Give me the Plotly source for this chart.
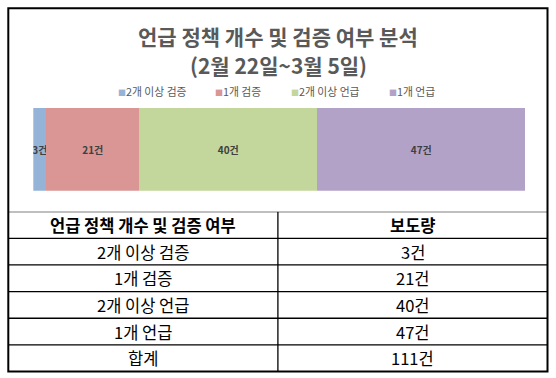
import plotly.graph_objects as go

# ---- data ----
categories = ["2개 이상 검증", "1개 검증", "2개 이상 언급", "1개 언급"]
counts = [3, 21, 40, 47]
colors = ["#95B3D7", "#D99694", "#C3D69B", "#B3A2C7"]
title_lines = ["언급 정책 개수 및 검증 여부 분석", "(2월 22일~3월 5일)"]
table_header = ["언급 정책 개수 및 검증 여부", "보도량"]
total_label = "합계"
unit = "건"

W, H = 556, 378
FONT = "Noto Sans CJK KR, Malgun Gothic, sans-serif"

def px_x(p):
    return p / W

def px_y(p):
    return 1 - p / H

fig = go.Figure()

# stacked horizontal bar
for name, val, col in zip(categories, counts, colors):
    fig.add_trace(go.Bar(
        y=["bar"], x=[val], name=name, orientation="h",
        marker=dict(color=col, line=dict(width=0)),
        texttemplate="<b>%{x}" + unit + "</b>", textposition="inside",
        insidetextanchor="middle", constraintext="none", textangle=0,
        textfont=dict(family=FONT, size=10, color="#404040"),
        showlegend=False, hoverinfo="skip",
    ))

# ---- table (drawn on its own axes: columns 0..2, rows 0..n) ----
col1 = categories + [total_label]
col2 = [f"{v}{unit}" for v in counts] + [f"{sum(counts)}{unit}"]
rows = [table_header] + [[a, b] for a, b in zip(col1, col2)]
n_rows = len(rows)

annotations = []
shapes = []
for r, row in enumerate(rows):
    for c, txt in enumerate(row):
        annotations.append(dict(
            x=c + 0.5, y=r + 0.5, xref="x2", yref="y2",
            xanchor="center", yanchor="middle", showarrow=False,
            text=f"<b>{txt}</b>" if r == 0 else txt,
            font=dict(family=FONT, size=16.5, color="black"),
        ))
# grid lines
for r in range(n_rows):
    shapes.append(dict(type="line", xref="x2", yref="y2", x0=0, x1=2, y0=r, y1=r,
                       line=dict(color="black", width=1.3)))
shapes.append(dict(type="line", xref="x2", yref="y2", x0=1, x1=1, y0=0, y1=n_rows,
                   line=dict(color="black", width=1.3)))

# legend as annotations
legend_x = [115.5, 213, 289, 387]
for name, col, lx in zip(categories, colors, legend_x):
    annotations.append(dict(
        x=px_x(lx), y=px_y(91), xref="paper", yref="paper",
        xanchor="left", yanchor="middle", showarrow=False,
        text=f"<span style='color:{col};font-size:8px'>■</span>{name}",
        font=dict(family=FONT, size=10.8, color="#595959"),
    ))

# title lines
for line, ty in zip(title_lines, [35.5, 64.5]):
    annotations.append(dict(
        x=0.5, y=px_y(ty), xref="paper", yref="paper",
        xanchor="center", yanchor="middle", showarrow=False,
        text=f"<b>{line}</b>",
        font=dict(family=FONT, size=21, color="#595959"),
    ))

# outer border
shapes.append(dict(type="rect", xref="paper", yref="paper",
                   x0=px_x(8.3), x1=px_x(547.5), y0=px_y(371.5), y1=px_y(8.3),
                   line=dict(color="black", width=2), fillcolor="rgba(0,0,0,0)"))

fig.update_layout(
    width=W, height=H,
    margin=dict(l=0, r=0, t=0, b=0),
    paper_bgcolor="white", plot_bgcolor="rgba(0,0,0,0)",
    barmode="stack", bargap=0,
    showlegend=False,
    xaxis=dict(domain=[px_x(33.3), px_x(525.7)], range=[0, sum(counts)],
               visible=False, fixedrange=True),
    yaxis=dict(domain=[px_y(190.7), px_y(107.5)], visible=False, fixedrange=True),
    xaxis2=dict(domain=[px_x(8.3), px_x(547.5)], range=[0, 2], anchor="y2",
                visible=False, fixedrange=True),
    yaxis2=dict(domain=[px_y(371.5), px_y(211.7)], range=[n_rows, 0], anchor="x2",
                visible=False, fixedrange=True),
    annotations=annotations,
    shapes=shapes,
)

fig.write_html(
    "out.html",
    config=dict(displayModeBar=False),
    post_script="document.body.style.margin='0';document.body.style.overflow='hidden';",
)
